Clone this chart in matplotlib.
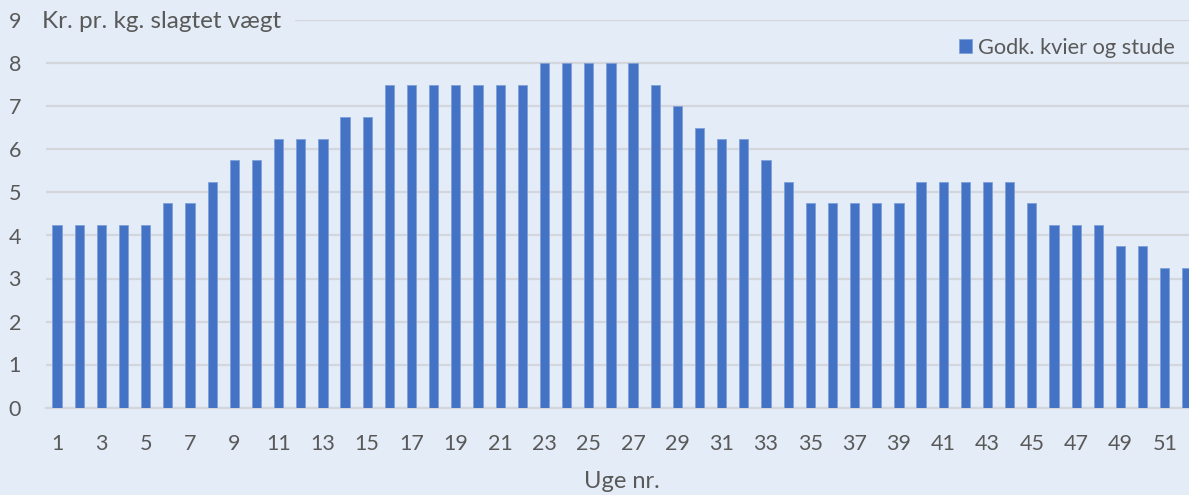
import matplotlib
matplotlib.use("Agg")
import matplotlib.pyplot as plt
import numpy as np

weeks = list(range(1, 53))
values = [4.25, 4.25, 4.25, 4.25, 4.25, 4.75, 4.75, 5.25, 5.75, 5.75,
          6.25, 6.25, 6.25, 6.75, 6.75, 7.5, 7.5, 7.5, 7.5, 7.5,
          7.5, 7.5, 8, 8, 8, 8, 8, 7.5, 7, 6.5,
          6.25, 6.25, 5.75, 5.25, 4.75, 4.75, 4.75, 4.75, 4.75, 5.25,
          5.25, 5.25, 5.25, 5.25, 4.75, 4.25, 4.25, 4.25, 3.75, 3.75,
          3.25, 3.25]
series_name = "Godk. kvier og stude"
y_title = "Kr. pr. kg. slagtet vægt"
x_title = "Uge nr."
x_tick_labels = [str(w) for w in weeks[::2]]

plt.rcParams['font.family'] = ['Lato', 'DejaVu Sans']
bg = "#E4ECF7"
txt = "#595959"
bar_color = "#4472C4"

fig = plt.figure(figsize=(11.89, 4.95), dpi=100, facecolor=bg)
ax = fig.add_axes([46/1189, (495-407.5)/495, (1198-46)/1189, (407.5-20.5)/495])
ax.set_facecolor(bg)

x = np.arange(len(weeks))
ax.bar(x, values, width=0.42, color=bar_color, edgecolor="#7FA0DA", linewidth=0.6,
       label=series_name, zorder=3)

ax.set_xlim(-0.5, len(weeks) - 0.5)
ax.set_ylim(0, 9)
ax.set_yticks(range(0, 10))
ax.set_xticks(x[::2])
ax.set_xticklabels(x_tick_labels)
ax.yaxis.grid(True, color="#D3D7DC", linewidth=1.6, zorder=0)
ax.set_axisbelow(True)
for s in ["top", "right", "left"]:
    ax.spines[s].set_visible(False)
ax.spines["bottom"].set_color("#D3D7DC")
ax.spines["bottom"].set_linewidth(1.6)
ax.tick_params(axis="both", length=0, labelsize=15.5, colors=txt)
ax.tick_params(axis="x", pad=19)
ax.tick_params(axis="y", pad=18)
ax.set_xlabel(x_title, fontsize=17, color=txt, labelpad=12)

fig.text(42/1189, 1 - 21/495, y_title, fontsize=17.5, color=txt, va="center", ha="left",
         bbox=dict(facecolor=bg, edgecolor="none", pad=10))

leg = ax.legend(loc="upper right", frameon=False, fontsize=15.7,
                handlelength=0.6, handleheight=0.6, handletextpad=0.3, borderaxespad=0)
for t in leg.get_texts():
    t.set_color(txt)
leg.set_bbox_to_anchor((1184/1189, 1 - 29/495), transform=fig.transFigure)

fig.savefig("out.png", dpi=100, facecolor=bg)
